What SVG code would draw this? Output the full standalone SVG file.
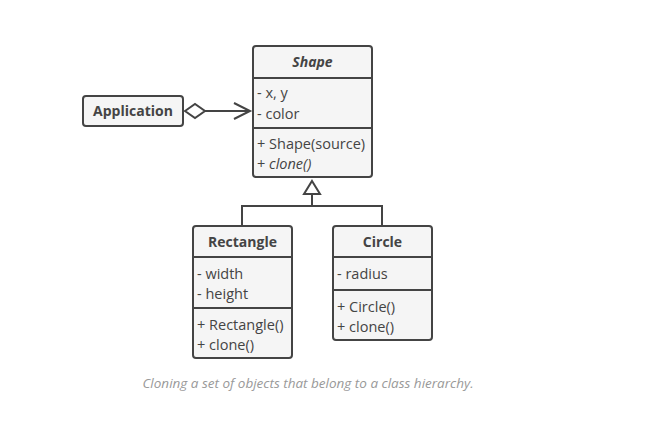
<svg xmlns="http://www.w3.org/2000/svg" width="649" height="440" viewBox="0 0 649 440">
<style>
.box{fill:#f5f5f5;stroke:#444;stroke-width:2}
.div{stroke:#444;stroke-width:2}
.t{font-family:"Open Sans","Liberation Sans",sans-serif;font-size:14.5px;fill:#444}
.h{font-weight:bold;text-anchor:middle;font-size:14px}
.i{font-style:italic}
.ln{fill:none;stroke:#444;stroke-width:2}
.cap{font-family:"Open Sans","Liberation Sans",sans-serif;font-size:13.5px;font-style:italic;fill:#999;text-anchor:middle}
</style>
<rect width="649" height="440" fill="#fff"/>
<g id="connectors">
<path class="ln" d="M205 111 H250"/>
<path class="ln" d="M234 103 L250 111 L234 119"/>
<path d="M185 111 L195 104 L205 111 L195 118 Z" fill="#fff" stroke="#444" stroke-width="2"/>
<path class="ln" d="M312 195 V206 M242 226 V206 H382 V226"/>
<path d="M312 181 L320 194 L304 194 Z" fill="#fff" stroke="#444" stroke-width="2"/>
</g>
<g id="application">
<rect class="box" x="83" y="96" width="100" height="30" rx="3"/>
<text class="t h" x="133" y="116">Application</text>
</g>
<g id="shape">
<rect class="box" x="253" y="46" width="119" height="131" rx="3"/>
<path class="div" d="M253 78 H372 M253 128 H372"/>
<text class="t h i" x="312.5" y="67">Shape</text>
<text class="t" x="257" y="98">- x, y</text>
<text class="t" x="257" y="119">- color</text>
<text class="t" x="257" y="149">+ Shape(source)</text>
<text class="t" x="257" y="169">+ <tspan class="i">clone()</tspan></text>
</g>
<g id="rectangle">
<rect class="box" x="193" y="226" width="99" height="132" rx="3"/>
<path class="div" d="M193 257 H292 M193 308 H292"/>
<text class="t h" x="242.5" y="247">Rectangle</text>
<text class="t" x="197" y="279">- width</text>
<text class="t" x="197" y="299">- height</text>
<text class="t" x="197" y="330">+ Rectangle()</text>
<text class="t" x="197" y="350">+ clone()</text>
</g>
<g id="circle">
<rect class="box" x="333" y="226" width="99" height="114" rx="3"/>
<path class="div" d="M333 257 H432 M333 290 H432"/>
<text class="t h" x="382.5" y="247">Circle</text>
<text class="t" x="337" y="279">- radius</text>
<text class="t" x="337" y="312">+ Circle()</text>
<text class="t" x="337" y="332">+ clone()</text>
</g>
<text class="cap" x="308" y="388">Cloning a set of objects that belong to a class hierarchy.</text>
</svg>
